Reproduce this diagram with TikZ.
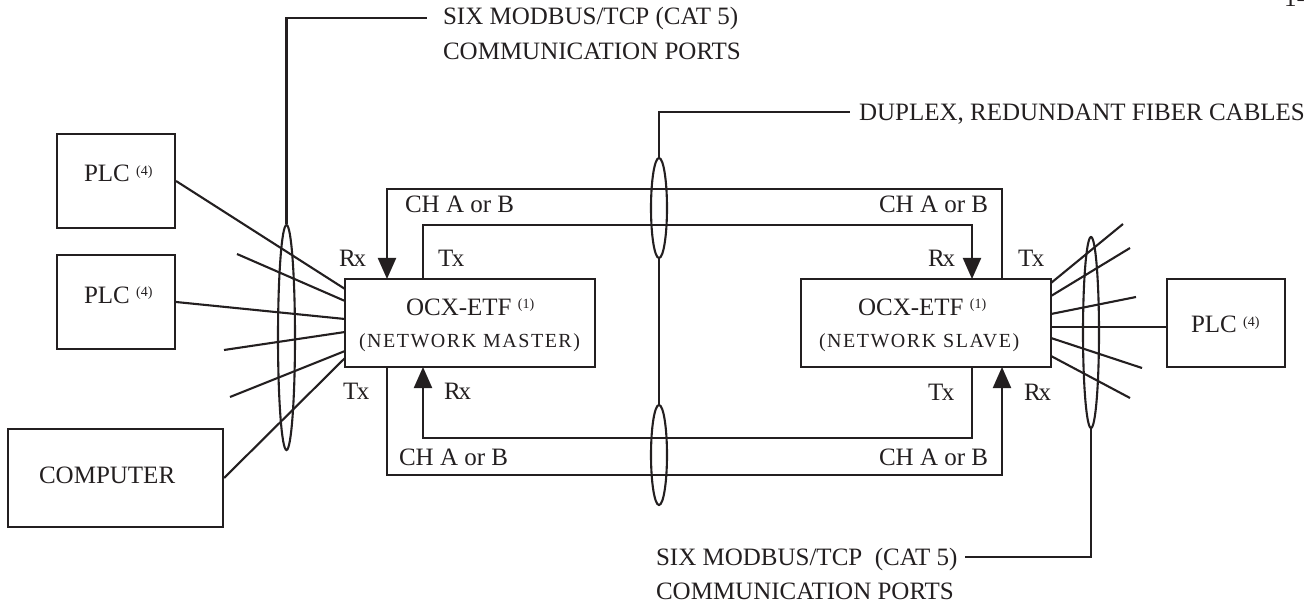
\documentclass[tikz,border=0pt]{standalone}
\usepackage{fontspec}
\setmainfont{Liberation Serif}
\newfontfamily\spacedfont{Liberation Serif}[LetterSpace=7.5]
\usetikzlibrary{arrows.meta,shapes.geometric}
\definecolor{ink}{RGB}{35,31,32}
\newcommand{\supr}[1]{\raisebox{6pt}{\fontsize{14}{14}\selectfont #1}}
\begin{document}
\begin{tikzpicture}[x=1pt,y=-1pt,
  line width=2.1pt, color=ink,
  lbl/.style={font=\fontsize{25}{35}\selectfont, inner sep=0pt, anchor=base west},
  sublbl/.style={font=\spacedfont\fontsize{20}{24}\selectfont, inner sep=0pt, anchor=base west},
  box/.style={draw, rectangle, inner sep=0pt},
  oval/.style={draw, ellipse, inner sep=0pt},
  arr/.style={-{Triangle[width=18pt,length=21pt]}},
]
\useasboundingbox (0,0) rectangle (1315,604);

% boxes
\node[box, minimum width=118, minimum height=94] (plc1) at (116,181) {};
\node[box, minimum width=118, minimum height=94] (plc2) at (116,302) {};
\node[box, minimum width=215, minimum height=98] (comp) at (115.5,478) {};
\node[box, minimum width=250, minimum height=88] (master) at (470,323) {};
\node[box, minimum width=250, minimum height=88] (slave) at (926,323) {};
\node[box, minimum width=118, minimum height=88] (plc3) at (1226,323) {};

% ellipses (cable bundles)
\node[oval, minimum width=17, minimum height=225] (eL) at (286.5,337.5) {};
\node[oval, minimum width=16, minimum height=100] (eT) at (659,208) {};
\node[oval, minimum width=16, minimum height=100] (eB) at (659,455) {};
\node[oval, minimum width=16, minimum height=191] (eR) at (1091,332.5) {};

% left fan
\coordinate (m1) at (345,289);
\coordinate (m2) at (345,301);
\coordinate (m3) at (345,319);
\coordinate (m4) at (345,332);
\coordinate (m5) at (345,351);
\coordinate (m6) at (345,358);
\coordinate (l2) at (237,254);
\coordinate (l4) at (224,350);
\coordinate (l5) at (230,397);
\draw (plc1.east) -- (m1);
\draw (l2) -- (m2);
\draw (plc2.east) -- (m3);
\draw (l4) -- (m4);
\draw (l5) -- (m5);
\draw (comp.east) -- (m6);

% right fan
\coordinate (r1) at (1051,283);
\coordinate (r2) at (1051,296);
\coordinate (r3) at (1051,314);
\coordinate (r4) at (1051,327);
\coordinate (r5) at (1051,338);
\coordinate (r6) at (1051,356);
\coordinate (q1) at (1123,224);
\coordinate (q2) at (1130,248);
\coordinate (q3) at (1136,297);
\coordinate (q5) at (1142,368);
\coordinate (q6) at (1130,398);
\draw (r1) -- (q1);
\draw (r2) -- (q2);
\draw (r3) -- (q3);
\draw (r4) -- (r4 -| plc3.west);
\draw (r5) -- (q5);
\draw (r6) -- (q6);

% fiber loops
\coordinate (mRxT) at (387,279);
\coordinate (mTxT) at (423,279);
\coordinate (sRxT) at (972,279);
\coordinate (sTxT) at (1002,279);
\coordinate (mTxB) at (387,367);
\coordinate (mRxB) at (423,367);
\coordinate (sTxB) at (972,367);
\coordinate (sRxB) at (1002,367);
\draw[arr] (sTxT) -- ++(0,-90) -| (mRxT);
\draw[arr] (mTxT) -- ++(0,-54) -| (sRxT);
\draw[arr] (sTxB) -- ++(0,71) -| (mRxB);
\draw[arr] (mTxB) -- ++(0,108) -| (sRxB);

% leaders
\coordinate (tl) at (427,18);
\coordinate (dl) at (850,112);
\coordinate (bl) at (965,557);
\draw (eL.north) |- (tl);
\draw (eT.north) |- (dl);
\draw (eT.south) -- (eB.north);
\draw (eR.south) |- (bl);

% texts
\node[lbl] (t1a) at (442,25) {SIX MODBUS/TCP (CAT 5)};
\node[lbl] (t1b) at (442,60) {COMMUNICATION PORTS};
\node[lbl] (t2) at (858,121) {DUPLEX, REDUNDANT FIBER CABLES};
\node[lbl] (t3a) at (655,565) {SIX MODBUS/TCP\ \ (CAT 5)};
\node[lbl] (t3b) at (655,599) {COMMUNICATION PORTS};
\node[lbl] (pg) at (1283,7) {1-};

\node[lbl] (c1) at (404,213) {CH A or B};
\node[lbl] (c2) at (398,465) {CH A or B};
\node[lbl] (c3) at (878,213) {CH A or B};
\node[lbl] (c4) at (878,465) {CH A or B};

\node[lbl] (x1) at (338,267) {R\kern-2pt x};
\node[lbl] (x2) at (437,267) {T\kern-1.5pt x};
\node[lbl] (x3) at (342,399) {T\kern-1.5pt x};
\node[lbl] (x4) at (443,399) {R\kern-2pt x};
\node[lbl] (x5) at (927,267) {R\kern-2pt x};
\node[lbl] (x6) at (1017,267) {T\kern-1.5pt x};
\node[lbl] (x7) at (927,400) {T\kern-1.5pt x};
\node[lbl] (x8) at (1023,400) {R\kern-2pt x};

\node[lbl] (o1) at (405,315) {OCX-ETF \supr{(1)}};
\node[lbl] (o2) at (857,315) {OCX-ETF \supr{(1)}};
\node[sublbl] (n1) at (358,347) {(NETWORK\hspace{7pt}MASTER)};
\node[sublbl] (n2) at (818,347) {(NETWORK\hspace{7pt}SLAVE)};

\node[lbl] (p1) at (83,182) {PLC \supr{(4)}};
\node[lbl] (p2) at (83,303) {PLC \supr{(4)}};
\node[lbl] (p3) at (1190,332) {PLC \supr{(4)}};
\node[lbl] (cp) at (38,483) {COMPUTER};
\end{tikzpicture}
\end{document}
